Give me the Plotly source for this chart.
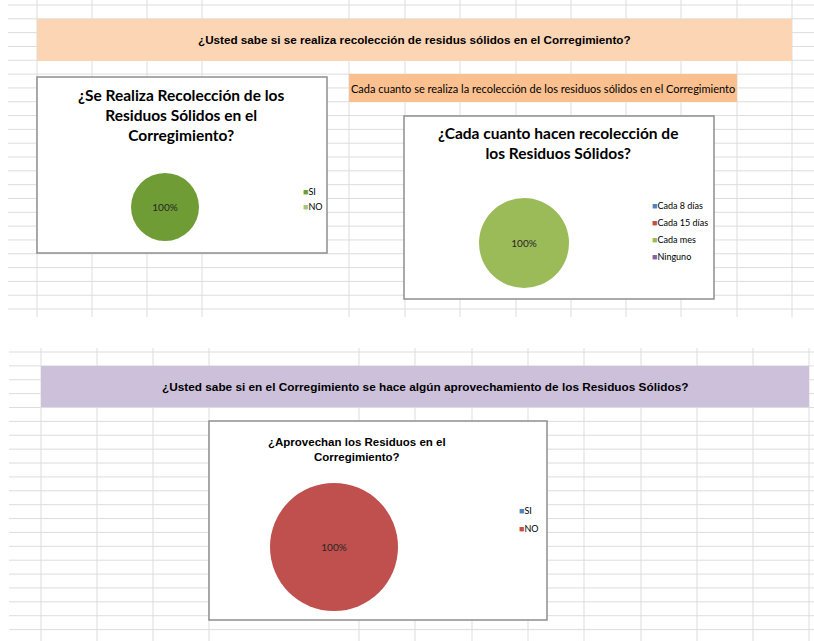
import plotly.graph_objects as go

W, H = 814, 641

# ---- datos de las encuestas ----
q1_title = "¿Se Realiza Recolección de los<br>Residuos Sólidos en el<br>Corregimiento?"
q1_labels = ["SI", "NO"]
q1_values = [100, 0]
q1_colors = ["#6F9C35", "#A8C47C"]

q2_title = "¿Cada cuanto hacen recolección de<br>los Residuos Sólidos?"
q2_labels = ["Cada 8 días", "Cada 15 días", "Cada mes", "Ninguno"]
q2_values = [0, 0, 100, 0]
q2_colors = ["#4F81BD", "#C0504D", "#9BBB59", "#8064A2"]

q3_title = "¿Aprovechan los Residuos en el<br>Corregimiento?"
q3_labels = ["SI", "NO"]
q3_values = [0, 100]
q3_colors = ["#4F81BD", "#C0504D"]

banner1 = "¿Usted sabe si se realiza recolección de residus sólidos en el Corregimiento?"
banner2 = "Cada cuanto se realiza la recolección de los residuos sólidos en el Corregimiento"
banner3 = "¿Usted sabe si en el Corregimiento se hace algún aprovechamiento de los Residuos Sólidos?"

CALIBRI = "Lato, Liberation Sans, Arial"
ARIAL = "Liberation Sans, Arial"
GRID = "#DCDDDE"


def px(x):
    return x / W


def py(y):
    return 1 - y / H


shapes = []
annotations = []


def hline(x0, x1, y):
    shapes.append(dict(type="line", xref="paper", yref="paper", x0=px(x0), x1=px(x1),
                       y0=py(y), y1=py(y), line=dict(color=GRID, width=1), layer="below"))


def vline(x, y0, y1):
    shapes.append(dict(type="line", xref="paper", yref="paper", x0=px(x), x1=px(x),
                       y0=py(y0), y1=py(y1), line=dict(color=GRID, width=1), layer="below"))


def rect(x0, y0, x1, y1, fill, line=None):
    shapes.append(dict(type="rect", xref="paper", yref="paper", x0=px(x0), x1=px(x1),
                       y0=py(y1), y1=py(y0), fillcolor=fill, layer="below",
                       line=dict(color=line or fill, width=1.5 if line else 0)))


def text(x, y, s, size, family, bold=False, color="#000000", xanchor="center"):
    if bold:
        s = "<b>" + s.replace("<br>", "</b><br><b>") + "</b>"
    annotations.append(dict(x=px(x), y=py(y), xref="paper", yref="paper", text=s,
                            showarrow=False, xanchor=xanchor, yanchor="middle",
                            font=dict(size=size, family=family, color=color)))


# hoja de cálculo: parte superior
top_cols = [37, 92, 147, 202, 349, 405, 460, 516, 571, 626, 681, 737, 792]
for k in range(23):
    hline(8, W, 5 + 13.82 * k)
for x in top_cols:
    vline(x, 0, 317)

# hoja de cálculo: parte inferior
bot_cols = [41, 97, 153, 209, 359, 415, 472, 528, 584, 641, 697, 753, 809]
for k in range(21):
    hline(9, W, 352 + 13.88 * k)
for x in bot_cols:
    vline(x, 348, H)

# encabezados
rect(37, 19, 792, 61, "#FCD5B5")
text(414, 40, banner1, 11.7, ARIAL, bold=True)
rect(349, 74, 737, 102, "#FAC090")
text(543, 88, banner2, 11, CALIBRI)
rect(41, 366, 809, 407, "#CCC0DA")
text(425, 387, banner3, 11.8, ARIAL, bold=True)

# marcos de los gráficos
rect(37, 77, 327, 253, "#FFFFFF", "#8E8E8E")
rect(404, 116, 714, 299, "#FFFFFF", "#8E8E8E")
rect(209, 421, 547, 620, "#FFFFFF", "#8E8E8E")

text(181, 115, q1_title, 15.5, CALIBRI, bold=True)
text(558, 143, q2_title, 15.5, CALIBRI, bold=True)
text(357, 449, q3_title, 11.5, ARIAL, bold=True)


def legend(labels, colors, x, y0, step):
    for i, (lab, col) in enumerate(zip(labels, colors)):
        text(x, y0 + step * i, f'<span style="color:{col}">■</span>{lab}', 9, CALIBRI,
             color="#000000", xanchor="left")


legend(q1_labels, q1_colors, 301, 191, 16)
legend(q2_labels, q2_colors, 650, 206, 16.7)
legend(q3_labels, q3_colors, 517, 511, 17)


def pie(labels, values, colors, cx, cy, r):
    total = sum(values)
    labels_txt = [f"{v / total * 100:.0f}%" if v else "" for v in values]
    return go.Pie(
        labels=labels, values=values, text=labels_txt, textinfo="text",
        textposition="inside", insidetextorientation="horizontal",
        insidetextfont=dict(size=10, family=CALIBRI, color="#262626"),
        marker=dict(colors=colors, line=dict(width=0)),
        domain=dict(x=[px(cx - r), px(cx + r)], y=[py(cy + r), py(cy - r)]),
        sort=False, hoverinfo="skip", showlegend=False,
    )


fig = go.Figure()
fig.add_trace(pie(q1_labels, q1_values, q1_colors, 165, 207, 34))
fig.add_trace(pie(q2_labels, q2_values, q2_colors, 524, 243, 45))
fig.add_trace(pie(q3_labels, q3_values, q3_colors, 334, 547, 64))

fig.update_layout(
    width=W, height=H, autosize=False,
    margin=dict(l=0, r=0, t=0, b=0),
    paper_bgcolor="#FFFFFF", plot_bgcolor="#FFFFFF",
    shapes=shapes, annotations=annotations,
    showlegend=False,
)

# the page body has a default 8px margin; drop it so the sheet sits at 0,0
fig.write_html("out.html", config={"displayModeBar": False},
               post_script="document.body.style.margin='0';")
